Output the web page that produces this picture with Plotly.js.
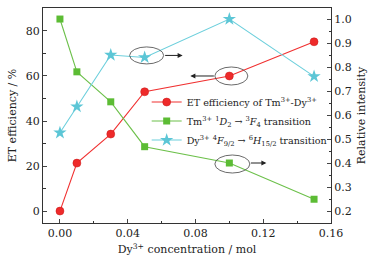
<!DOCTYPE html>
<html><head><meta charset="utf-8">
<script src="https://cdn.plot.ly/plotly-3.0.1.min.js"></script>
<style>
html,body{margin:0;padding:0;background:#fff}
#c{width:373px;height:260px}
</style>
</head><body><div id="c"></div>
<script>
const conc = [0.00, 0.01, 0.03, 0.05, 0.10, 0.15];
const etEff = [0, 21.3, 34.2, 53.0, 60.0, 75.2];
const tmInt = [1.00, 0.78, 0.655, 0.468, 0.40, 0.249];
const dyInt = [0.526, 0.635, 0.85, 0.84, 1.00, 0.761];
const xTicks = [0.00, 0.04, 0.08, 0.12, 0.16];

const traces = [
  {x: conc, y: etEff, name: 'ET efficiency of Tm<sup>3+</sup>-Dy<sup>3+</sup>', mode: 'lines+markers',
   line: {color: '#f03030', width: 1.1}, marker: {symbol: 'circle', size: 8, color: '#ee2a2a', line: {color: '#c81818', width: 0.5}}},
  {x: conc, y: tmInt, yaxis: 'y2', name: 'Tm<sup>3+</sup> <sup>1</sup><i>D</i><sub>2</sub> → <sup>3</sup><i>F</i><sub>4</sub> transition', mode: 'lines+markers',
   line: {color: '#6cc04a', width: 1.1}, marker: {symbol: 'square', size: 7, color: '#5cbc34'}},
  {x: conc, y: dyInt, yaxis: 'y2', name: 'Dy<sup>3+</sup> <sup>4</sup><i>F</i><sub>9/2</sub> → <sup>6</sup><i>H</i><sub>15/2</sub> transition', mode: 'lines+markers',
   line: {color: '#6ccfdc', width: 1.1}, marker: {symbol: 'star', size: 10, color: '#5cc6d6'}}
];

function ell(xv, yv, yref, dx, dy, w, h) {
  return {type: 'circle', xref: 'x', yref: yref, xsizemode: 'pixel', ysizemode: 'pixel',
    xanchor: xv, yanchor: yv, x0: dx - w/2, x1: dx + w/2, y0: dy - h/2, y1: dy + h/2,
    line: {color: '#444', width: 0.8}};
}
function arr(xv, yv, yref, xshift, yshift, ax) {
  return {x: xv, y: yv, xref: 'x', yref: yref, text: '', showarrow: true, xshift: xshift, yshift: yshift,
    ax: ax, ay: 0, arrowhead: 2, arrowsize: 1, arrowwidth: 1, arrowcolor: '#222'};
}

const FAM = 'DejaVu Serif';
const F = {family: FAM, size: 11, color: '#222'};
const FLeg = {family: FAM, size: 9.6, color: '#222'};
const layout = {
  width: 373, height: 260, margin: {l: 43, r: 42, t: 8, b: 37},
  paper_bgcolor: '#fff', plot_bgcolor: '#fff', showlegend: true,
  font: F,
  xaxis: {range: [-0.01, 0.16], tickvals: xTicks, tickformat: '.2f', ticks: 'inside', ticklen: 4, tickfont: F,
    showline: true, linecolor: '#333', linewidth: 1, mirror: true, showgrid: false, zeroline: false,
    minor: {dtick: 0.02, ticks: 'inside', ticklen: 2.5, tickcolor: '#333', showgrid: false},
    title: {text: 'Dy<sup>3+</sup> concentration / mol', font: F, standoff: 6}},
  yaxis: {range: [-5.3, 90.2], dtick: 20, ticks: 'inside', ticklen: 4, tickfont: F, showline: true, linecolor: '#333', linewidth: 1,
    showgrid: false, zeroline: false,
    minor: {dtick: 10, ticks: 'inside', ticklen: 2.5, tickcolor: '#333', showgrid: false},
    title: {text: 'ET efficiency / %', font: F, standoff: 6}},
  yaxis2: {range: [0.15, 1.046], dtick: 0.1, tickformat: '.1f', overlaying: 'y', side: 'right', ticks: 'inside', ticklen: 4, tickfont: F,
    showline: true, linecolor: '#333', linewidth: 1, showgrid: false, zeroline: false,
    minor: {dtick: 0.05, ticks: 'inside', ticklen: 2.5, tickcolor: '#333', showgrid: false},
    title: {text: 'Relative intensity', font: F, standoff: 6}},
  legend: {x: 0.36, y: 0.63, xanchor: 'left', yanchor: 'top', bgcolor: 'rgba(0,0,0,0)', font: FLeg,
    itemwidth: 30, tracegroupgap: 0},
  shapes: [
    ell(conc[3], dyInt[3], 'y2', 2, 2, 34, 17),
    ell(conc[4], etEff[4], 'y', 2, 0, 33, 18),
    ell(conc[4], tmInt[4], 'y2', 3, -1, 35, 18)
  ],
  annotations: [
    arr(conc[3], dyInt[3], 'y2', 38, 2, -19),
    arr(conc[4], etEff[4], 'y', -39, 0, 25),
    arr(conc[4], tmInt[4], 'y2', 37, 0, -17)
  ]
};
Plotly.newPlot('c', traces, layout, {displayModeBar: false, staticPlot: true});
</script></body></html>
